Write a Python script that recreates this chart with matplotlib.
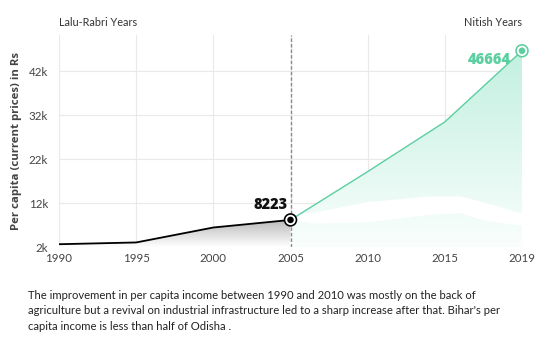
import numpy as np
import matplotlib
matplotlib.use("Agg")
import matplotlib.pyplot as plt
from matplotlib.path import Path
from matplotlib.patches import PathPatch

plt.rcParams['font.family'] = ['Lato', 'DejaVu Sans']
BOLD_FAMILY = ['Open Sans', 'DejaVu Sans']

# Per capita income of Bihar (current prices, Rs)
years = ["1990", "1995", "2000", "2005", "2010", "2015", "2019"]
income = [2700, 3100, 6500, 8223, 19200, 30500, 46664]
split_index = 3  # 2005: change of government

# White band drawn over the shaded area
band_x = [3.1, 3.3, 4.0, 4.8, 5.2, 5.5, 6.0]
band_upper = [9600, 10000, 12400, 13700, 13700, 12300, 9800]
band_lower = [8000, 7500, 7800, 9500, 9800, 8200, 7000]

yticks = [2000, 12000, 22000, 32000, 42000]
ytick_labels = ["2k", "12k", "22k", "32k", "42k"]

green = "#5ccfa0"
ymin, ymax = 2000, 50250

fig = plt.figure(figsize=(5.53, 3.48), dpi=100)
ax = fig.add_axes([59 / 553, 1 - 247.3 / 348, (522 - 59) / 553, (247.3 - 35) / 348])

x = np.arange(len(years))
ax.set_xlim(0, len(years) - 1)
ax.set_ylim(ymin, ymax)


def gradient_fill(xs, ys, top_rgba, bottom_rgba, ytop):
    verts = [(xs[0], ymin)] + list(zip(xs, ys)) + [(xs[-1], ymin), (xs[0], ymin)]
    codes = [Path.MOVETO] + [Path.LINETO] * (len(verts) - 2) + [Path.CLOSEPOLY]
    patch = PathPatch(Path(verts, codes), facecolor="none", edgecolor="none")
    ax.add_patch(patch)
    n = 256
    t = np.linspace(0, 1, n)[:, None]
    top = np.array(top_rgba)
    bot = np.array(bottom_rgba)
    img = (1 - t) * top + t * bot
    img = img[:, None, :]
    im = ax.imshow(img, extent=[xs[0], xs[-1], ymin, ytop], aspect="auto",
                   origin="upper", zorder=1, interpolation="bilinear")
    im.set_clip_path(patch)


# grid
for xi in x:
    ax.axvline(xi, color="#e9e9e9", lw=0.8, zorder=0)
for yt in yticks:
    ax.axhline(yt, color="#e9e9e9", lw=0.8, zorder=0)
ax.axhline(ymin, color="#dcdcdc", lw=1.0, zorder=0)

# shaded areas
gradient_fill(x[:split_index + 1], income[:split_index + 1],
              (0.72, 0.72, 0.72, 1.0), (1, 1, 1, 1.0), income[split_index])
gradient_fill(x[split_index:], income[split_index:],
              (0.76, 0.94, 0.88, 1.0), (0.98, 0.997, 0.99, 1.0), income[-1])

ax.fill_between(band_x, band_lower, band_upper, color="white", lw=0, zorder=2)

# lines
ax.plot(x[:split_index + 1], income[:split_index + 1], color="black", lw=1.3, zorder=3)
ax.plot(x[split_index:], income[split_index:], color=green, lw=1.0, zorder=3)

ax.axvline(split_index, color="#8a8a8a", lw=1.0, ls=(0, (2.5, 1.5)), zorder=3)

# end markers
ax.scatter([x[split_index]], [income[split_index]], s=95, facecolor="black", edgecolor="none", zorder=4)
ax.scatter([x[split_index]], [income[split_index]], s=55, facecolor="white", edgecolor="none", zorder=5)
ax.scatter([x[split_index]], [income[split_index]], s=22, facecolor="black", edgecolor="none", zorder=6)
ax.scatter([x[-1]], [income[-1]], s=95, facecolor=green, edgecolor="none", zorder=4, clip_on=False)
ax.scatter([x[-1]], [income[-1]], s=55, facecolor="white", edgecolor="none", zorder=5, clip_on=False)
ax.scatter([x[-1]], [income[-1]], s=22, facecolor=green, edgecolor="none", zorder=6, clip_on=False)

ax.text(x[split_index] - 0.04, income[split_index] + 3500, f"{income[split_index]}",
        ha="right", va="center", fontsize=10.5, fontweight="heavy", color="#111111", zorder=6,
        family=BOLD_FAMILY)
ax.text(x[-1] - 0.14, income[-1] - 2200, f"{income[-1]}",
        ha="right", va="center", fontsize=10.5, fontweight="heavy", color=green, zorder=6,
        family=BOLD_FAMILY)

# axes styling
for s in ax.spines.values():
    s.set_visible(False)
ax.set_xticks(x)
ax.set_xticklabels(years)
ax.set_yticks(yticks)
ax.set_yticklabels(ytick_labels)
ax.tick_params(axis="both", length=0, labelsize=8.3, labelcolor="#444444")
ax.tick_params(axis="x", pad=4)
ax.tick_params(axis="y", pad=8)
ax.set_ylabel("Per capita (current prices) in Rs", fontsize=8.2, fontweight="bold",
              color="#444444", labelpad=5, family=BOLD_FAMILY)

fig.text(59 / 553, 1 - 22 / 348, "Lalu-Rabri Years", ha="left", va="center",
         fontsize=7.8, color="#333333")
fig.text(522 / 553, 1 - 22 / 348, "Nitish Years", ha="right", va="center",
         fontsize=7.8, color="#333333")

caption = ("The improvement in per capita income between 1990 and 2010 was mostly on the back of\n"
           "agriculture but a revival on industrial infrastructure led to a sharp increase after that. Bihar's per\n"
           "capita income is less than half of Odisha .")
fig.text(28 / 553, 1 - 290 / 348, caption, ha="left", va="top", fontsize=8.15,
         color="#222222", linespacing=1.5)

fig.savefig("out.png", dpi=100)
